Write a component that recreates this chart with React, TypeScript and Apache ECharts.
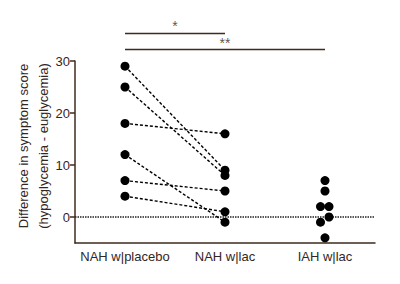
import React, { useEffect, useRef } from "react";
import * as echarts from "echarts";

const categories = ["NAH w|placebo", "NAH w|lac", "IAH w|lac"];
const yTicks = [0, 10, 20, 30];
// paired NAH values: placebo -> lac
const nahPlacebo = [29, 25, 18, 12, 7, 4];
const nahLac = [9, 8, 16, -1, 5, 1];
// IAH w|lac values with horizontal jitter offset (category units)
const iahValues = [7, 5, 2, 2, 0, -1, -4];
const iahJitter = [0, 0, -0.045, 0.04, 0.04, -0.045, 0];
const sigBars = [
  { from: 0, to: 1, y: 35.3, label: "*" },
  { from: 0, to: 2, y: 32.2, label: "**" },
];

const AXIS = "#3f2b1e";
const TEXT = "#33261f";
const FONT = "Liberation Sans";

export default function App() {
  const ref = useRef<HTMLDivElement>(null);
  useEffect(() => {
    if (!ref.current) return;
    const chart = echarts.init(ref.current, undefined, { renderer: "svg" });
    const series: any[] = [];
    nahPlacebo.forEach((v, i) => {
      series.push({
        type: "line",
        xAxisIndex: 1,
        data: [[0, v], [1, nahLac[i]]],
        symbol: "circle",
        symbolSize: 9,
        itemStyle: { color: "#000", opacity: 1 },
        lineStyle: { color: "#000", width: 1.4, type: [3, 2] },
        z: 3,
      });
    });
    series.push({
      type: "scatter",
      xAxisIndex: 1,
      data: iahValues.map((v, i) => [2 + iahJitter[i], v]),
      symbol: "circle",
      symbolSize: 9,
      itemStyle: { color: "#000", opacity: 1 },
      z: 4,
    });
    series.push({
      type: "line",
      xAxisIndex: 1,
      data: [[-0.5, 0], [2.5, 0]],
      symbol: "none",
      lineStyle: { color: "#222", width: 1.3, type: [1.5, 1] },
      z: 2,
    });
    sigBars.forEach((b) => {
      series.push({
        type: "line",
        xAxisIndex: 1,
        clip: false,
        data: [[b.from, b.y], [b.to, b.y]],
        symbol: "none",
        lineStyle: { color: AXIS, width: 1.4 },
      });
      series.push({
        type: "scatter",
        xAxisIndex: 1,
        clip: false,
        data: [[(b.from + b.to) / 2, b.y]],
        symbolSize: 0,
        label: {
          show: true,
          position: "top",
          distance: 0,
          formatter: b.label,
          color: TEXT,
          fontFamily: FONT,
          fontSize: 14,
        },
      });
    });
    chart.setOption({
      animation: false,
      grid: { left: 75, right: 25, top: 61, bottom: 41 },
      xAxis: [
        {
          type: "category",
          data: categories,
          axisLine: { onZero: false, lineStyle: { color: AXIS, width: 1.5 } },
          axisTick: { alignWithLabel: true, interval: 0, length: 5, lineStyle: { color: AXIS, width: 1.5 } },
          axisLabel: { interval: 0, color: TEXT, fontFamily: FONT, fontSize: 13, margin: 7 },
        },
        {
          type: "value",
          min: -0.5,
          max: 2.5,
          show: false,
        },
      ],
      yAxis: {
        type: "value",
        min: -5,
        max: 30,
        splitLine: { show: false },
        axisLine: { show: true, onZero: false, lineStyle: { color: AXIS, width: 1.5 } },
        axisTick: { show: true, length: 5, customValues: yTicks, lineStyle: { color: AXIS, width: 1.5 } },
        axisLabel: { color: TEXT, fontFamily: FONT, fontSize: 13, margin: 5, customValues: yTicks },
      },
      graphic: [
        {
          type: "text",
          x: 33,
          y: 146,
          rotation: Math.PI / 2,
          style: {
            text: "Difference in symptom score\n(hypoglycemia - euglycemia)",
            fill: TEXT,
            font: `13px ${FONT}`,
            align: "center",
            verticalAlign: "middle",
            lineHeight: 20,
          },
        },
      ],
      series,
    });
    return () => chart.dispose();
  }, []);
  return <div ref={ref} style={{ width: 400, height: 284, margin: -8 }} />;
}
